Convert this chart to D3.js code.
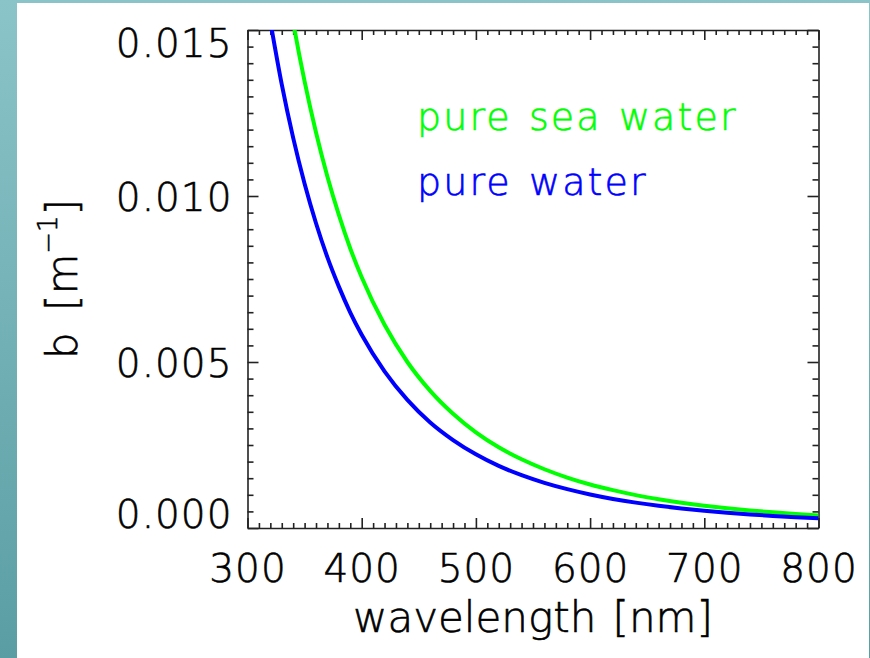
<!DOCTYPE html>
<html>
<head>
<meta charset="utf-8">
<script src="https://cdn.jsdelivr.net/npm/d3@7"></script>
<style>
  html, body { margin: 0; padding: 0; background: #fff; }
  svg { display: block; }
  text { font-family: "DejaVu Sans", sans-serif; font-weight: 300; stroke-width: 0.6px; }
</style>
</head>
<body>
<svg id="chart" width="870" height="658"></svg>
<script>
// Scattering coefficient b of pure water and pure sea water versus wavelength
const wavelength = [320, 330, 340, 350, 360, 370, 380, 390, 400, 420, 440, 460, 480, 500,
                    520, 540, 560, 580, 600, 620, 640, 660, 680, 700, 720, 740, 760, 780, 800];
const pureWater = [0.01526, 0.01336, 0.01175, 0.01037, 0.00918, 0.00815, 0.00727, 0.00649,
                   0.00582, 0.00472, 0.00386, 0.00318, 0.00265, 0.00222, 0.00187, 0.00159,
                   0.00136, 0.00117, 0.00101, 0.000876, 0.000764, 0.000669, 0.000588,
                   0.000519, 0.000460, 0.000408, 0.000364, 0.000325, 0.000291];
const pureSeaWater = [0.01980, 0.01734, 0.01524, 0.01345, 0.01191, 0.01058, 0.00943, 0.00842,
                      0.00755, 0.00612, 0.00500, 0.00413, 0.00344, 0.00288, 0.00243, 0.00207,
                      0.00177, 0.00152, 0.00131, 0.00114, 0.000991, 0.000868, 0.000763,
                      0.000673, 0.000596, 0.000530, 0.000472, 0.000422, 0.000378];

const xMajorTicks = [300, 400, 500, 600, 700, 800];
const yMajorTicks = [0.000, 0.005, 0.010, 0.015];
const seriesNames = ["pure sea water", "pure water"];
const seriesColors = ["#00ff00", "#0000ff"];

const svg = d3.select("#chart");
const W = 870, H = 658;
const plot = { left: 247.5, right: 818.5, top: 30, bottom: 528 };

// teal frame
const defs = svg.append("defs");
const grad = defs.append("linearGradient").attr("id", "frame")
  .attr("x1", 0).attr("y1", 0).attr("x2", 0).attr("y2", 1);
grad.append("stop").attr("offset", "0%").attr("stop-color", "#8bc4c8");
grad.append("stop").attr("offset", "100%").attr("stop-color", "#5a9ea4");
svg.append("rect").attr("width", W).attr("height", H).attr("fill", "url(#frame)");
svg.append("rect").attr("x", 17).attr("y", 3).attr("width", 852).attr("height", H - 3).attr("fill", "#fff");

defs.append("clipPath").attr("id", "plotclip").append("rect")
  .attr("x", plot.left).attr("y", plot.top)
  .attr("width", plot.right - plot.left).attr("height", plot.bottom - plot.top);

const x = d3.scaleLinear().domain([300, 800]).range([plot.left, plot.right]);
const y = d3.scaleLinear().domain([0, 0.015]).range([plot.bottom, plot.top]);

const xMinor = d3.range(300, 801, 10).filter(v => v % 100 !== 0);
const yMinor = d3.range(0, 31).map(i => i * 0.0005).filter((v, i) => i % 10 !== 0);

const axisColor = "#222";
function styleAxis(g) {
  g.selectAll("path.domain").attr("stroke", axisColor).attr("stroke-width", 1.6);
  g.selectAll(".tick line").attr("stroke", axisColor).attr("stroke-width", 1.6);
}

// bottom axis with labels
const gxB = svg.append("g").attr("transform", `translate(0,${plot.bottom})`)
  .call(d3.axisBottom(x).tickValues(xMajorTicks).tickSize(-10).tickSizeOuter(0)
        .tickPadding(0).tickFormat(d3.format("d")));
gxB.call(styleAxis);
gxB.selectAll(".tick text").attr("y", 54).attr("dy", null)
  .attr("font-size", 39).attr("letter-spacing", 1).attr("fill", "#000").attr("stroke", "#000")
  .attr("font-family", "DejaVu Sans");
svg.append("g").attr("transform", `translate(0,${plot.bottom})`)
  .call(d3.axisBottom(x).tickValues(xMinor).tickSize(-5).tickSizeOuter(0).tickFormat(""))
  .call(styleAxis).select("path.domain").remove();

// top axis mirror
svg.append("g").attr("transform", `translate(0,${plot.top})`)
  .call(d3.axisTop(x).tickValues(xMajorTicks).tickSize(-10).tickSizeOuter(0).tickFormat(""))
  .call(styleAxis);
svg.append("g").attr("transform", `translate(0,${plot.top})`)
  .call(d3.axisTop(x).tickValues(xMinor).tickSize(-5).tickSizeOuter(0).tickFormat(""))
  .call(styleAxis).select("path.domain").remove();

// left axis with labels; the end labels are kept inside the axis extent
const gyL = svg.append("g").attr("transform", `translate(${plot.left},0)`)
  .call(d3.axisLeft(y).tickValues(yMajorTicks).tickSize(-11).tickSizeOuter(0)
        .tickPadding(0).tickFormat(d3.format(".3f")));
gyL.call(styleAxis);
gyL.selectAll(".tick text").attr("x", -15).attr("dy", null)
  .attr("font-size", 39).attr("letter-spacing", 1).attr("fill", "#000").attr("stroke", "#000")
  .attr("font-family", "DejaVu Sans")
  .attr("y", d => d === 0 ? -1 : (d === 0.015 ? 26 : 14.5));
svg.append("g").attr("transform", `translate(${plot.left},0)`)
  .call(d3.axisLeft(y).tickValues(yMinor).tickSize(-6).tickSizeOuter(0).tickFormat(""))
  .call(styleAxis).select("path.domain").remove();

// right axis mirror
svg.append("g").attr("transform", `translate(${plot.right},0)`)
  .call(d3.axisRight(y).tickValues(yMajorTicks).tickSize(-11).tickSizeOuter(0).tickFormat(""))
  .call(styleAxis);
svg.append("g").attr("transform", `translate(${plot.right},0)`)
  .call(d3.axisRight(y).tickValues(yMinor).tickSize(-6).tickSizeOuter(0).tickFormat(""))
  .call(styleAxis).select("path.domain").remove();

// curves
const line = d3.line().x(d => x(d[0])).y(d => y(d[1])).curve(d3.curveMonotoneX);
const series = [pureSeaWater, pureWater];
const curves = svg.append("g").attr("clip-path", "url(#plotclip)");
series.forEach((vals, i) => {
  curves.append("path")
    .datum(wavelength.map((w, j) => [w, vals[j]]))
    .attr("fill", "none")
    .attr("stroke", seriesColors[i])
    .attr("stroke-width", 4)
    .attr("stroke-linejoin", "round")
    .attr("d", line);
});

// legend labels
seriesNames.forEach((name, i) => {
  svg.append("text")
    .attr("x", 417).attr("y", 130 + i * 65)
    .attr("font-size", 38).attr("letter-spacing", 2.1).attr("word-spacing", 3)
    .attr("fill", seriesColors[i]).attr("stroke", seriesColors[i])
    .text(name);
});

// axis titles
svg.append("text")
  .attr("x", (plot.left + plot.right) / 2).attr("y", 632)
  .attr("text-anchor", "middle").attr("font-size", 42).attr("word-spacing", 3)
  .attr("fill", "#000").attr("stroke", "#000")
  .text("wavelength [nm]");

const yTitle = svg.append("text")
  .attr("transform", `translate(77,${(plot.top + plot.bottom) / 2}) rotate(-90)`)
  .attr("text-anchor", "middle").attr("font-size", 42).attr("word-spacing", 8)
  .attr("fill", "#000").attr("stroke", "#000");
yTitle.append("tspan").text("b [m");
yTitle.append("tspan").attr("font-size", 26).attr("dy", -20).text("\u22121");
yTitle.append("tspan").attr("dy", 20).text("]");
</script>
</body>
</html>
